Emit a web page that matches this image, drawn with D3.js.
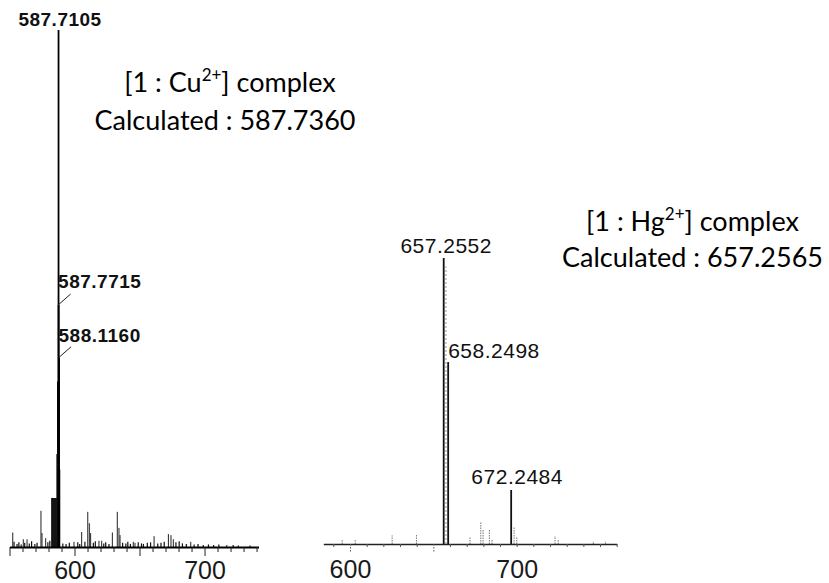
<!DOCTYPE html>
<html>
<head>
<meta charset="utf-8">
<script src="https://cdn.jsdelivr.net/npm/d3@7"></script>
<style>
  html, body { margin: 0; padding: 0; background: #fff; }
  svg { display: block; }
</style>
</head>
<body>
<svg id="chart" width="829" height="583"></svg>
<script>
// ---------- [1 : Cu2+] spectrum ----------
// labelled peaks: m/z and relative intensity (%)
const cuLabelMz  = [587.7105, 587.7715, 588.1160];
const cuLabelInt = [100, 46.8, 36.6];
// unresolved isotope cluster around the base peak
const cuClusterMz  = [582.5, 583.0, 583.5, 584.0, 584.5, 585.0, 585.5, 586.0, 586.5, 587.0, 588.6];
const cuClusterInt = [9.5, 9.5, 9.5, 9.5, 9.5, 9.5, 9.5, 9.5, 18, 32, 15];
// minor peaks
const cuMinorMz  = [552.5, 560.6, 563.5, 574.2, 575.0, 577.8, 599.6, 605.5, 610.2, 611.4, 612.4,
                    618.8, 620.9, 629.1, 632.9, 634.2, 635.0, 645.2, 646.5, 661.2, 672.2, 674.2,
                    676.0, 689.4, 717.1];
const cuMinorInt = [2.8, 1.5, 1.5, 7.0, 2.7, 1.7, 1.0, 2.9, 6.8, 4.6, 2.7,
                    1.2, 1.2, 2.8, 6.8, 3.7, 2.3, 1.0, 0.8, 2.1, 2.5, 2.3,
                    1.5, 1.0, 0.4];
// baseline noise
const cuNoiseMz  = [553.5, 555.8, 557.2, 559.0, 561.7, 565.2, 567.0, 569.5, 571.2, 579.5, 581.0,
                    591.0, 593.5, 596.0, 602.5, 604.0, 608.0, 614.5, 616.0, 622.5, 624.0, 626.5,
                    637.0, 639.5, 641.0, 643.0, 649.0, 651.5, 653.0, 656.0, 658.5, 664.0, 666.5,
                    669.0, 678.0, 680.5, 683.0, 686.0, 692.0, 695.0, 699.0, 703.0, 707.0, 711.0,
                    722.0, 726.0, 735.0];
const cuNoiseInt = [1.0, 0.6, 0.9, 0.5, 0.8, 0.7, 1.1, 0.6, 0.8, 0.9, 1.2,
                    0.7, 0.6, 0.8, 0.9, 0.6, 1.0, 0.8, 1.1, 0.7, 0.9, 0.6,
                    0.8, 0.7, 1.0, 0.6, 0.9, 0.7, 0.6, 0.8, 0.9, 0.7, 0.8,
                    1.0, 0.9, 1.1, 0.7, 0.6, 0.5, 0.6, 0.4, 0.5, 0.4, 0.5,
                    0.4, 0.3, 0.3];

// ---------- [1 : Hg2+] spectrum ----------
const hgLabelMz  = [657.2552, 658.2498, 672.2484];
const hgLabelInt = [100, 63.6, 18.9];
// unresolved shoulder between the two main lines
const hgShoulderMz  = [657.75];
const hgShoulderInt = [97];
const hgMinorMz  = [634.7, 637.6, 645.8, 651.2, 663.1, 665.5, 666.0, 667.4, 668.0,
                    672.9, 673.5, 682.0, 682.7, 690.5, 693.2];
const hgMinorInt = [1.7, 1.7, 3.0, 3.5, 2.6, 7.9, 4.9, 4.9, 1.4,
                    5.9, 2.4, 2.8, 1.7, 1.0, 1.0];

// printed axis tick labels (both panels)
const axisTickLabels = [600, 700];

// complex annotations
const complexes = [
  { ion: "Cu", charge: "2+", calc: "587.7360" },
  { ion: "Hg", charge: "2+", calc: "657.2565" }
];

const zip = (m, i) => m.map((v, k) => ({ mz: v, rel: i[k] }));

const svg = d3.select("#chart");
const LABEL_FONT = "'Liberation Sans', Arial, Helvetica, sans-serif";
const NOTE_FONT  = "Lato, 'Open Sans', sans-serif";

// ---------- scales ----------
const xCu = d3.scaleLinear().domain([550, 741.5]).range([9.5, 258.5]);
const yCu = d3.scaleLinear().domain([0, 100]).range([547, 30]);

const xHgAxis = d3.scaleLinear().domain([584, 760]).range([323.3, 616.7]);
const xHg     = d3.scaleLinear().domain([630.5, 695.7]).range([323.3, 616.7]);
const yHg     = d3.scaleLinear().domain([0, 100]).range([544, 258]);

// draw vertical stick peaks
function sticks(g, data, x, y, style) {
  g.append("g").selectAll("line").data(data).join("line")
    .attr("x1", d => x(d.mz)).attr("x2", d => x(d.mz))
    .attr("y1", y(0)).attr("y2", d => y(d.rel))
    .attr("stroke", style.color || "#000")
    .attr("stroke-width", style.width || 1)
    .attr("stroke-dasharray", style.dash || null);
}

// ---------- left panel ----------
const gCu = svg.append("g");
sticks(gCu, zip(cuNoiseMz, cuNoiseInt), xCu, yCu, { width: 1.2, color: "#111" });
sticks(gCu, zip(cuMinorMz, cuMinorInt), xCu, yCu, { width: 1, color: "#222" });
sticks(gCu, zip(cuClusterMz, cuClusterInt), xCu, yCu, { width: 1.2, color: "#111" });
sticks(gCu, zip(cuLabelMz, cuLabelInt), xCu, yCu, { width: 1.8, color: "#000" });

const cuTicks = d3.axisBottom(xCu).tickValues(d3.range(550, 741, 10))
  .tickSize(5).tickSizeOuter(0).tickFormat("");
const gCuAxis = gCu.append("g").attr("transform", `translate(0,${yCu(0)})`).call(cuTicks);
gCuAxis.select(".domain").attr("stroke-width", 2).attr("stroke", "#000");
gCuAxis.selectAll(".tick line").attr("y2", d => d % 50 === 0 ? 9 : 5).attr("stroke", "#222");

const cuLabelsAxis = d3.axisBottom(xCu).tickValues(axisTickLabels).tickSize(0).tickPadding(14);
const gCuLab = gCu.append("g").attr("transform", `translate(0,${yCu(0)})`).call(cuLabelsAxis);
gCuLab.select(".domain").remove();
gCuLab.selectAll("text").attr("font-family", LABEL_FONT).attr("font-size", 25).attr("fill", "#1a1a1a");

// peak labels (bold)
const cuLabelLayout = [
  { anchor: "middle", dx: 1.5, dy: -4, leader: false },
  { anchor: "start", dx: -0.5, dy: -17, leader: true },
  { anchor: "start", dx: -0.5, dy: -16, leader: true }
];
cuLabelMz.forEach((mz, i) => {
  const px = xCu(mz), py = yCu(cuLabelInt[i]), L = cuLabelLayout[i];
  gCu.append("text")
    .attr("x", px + L.dx).attr("y", py + L.dy)
    .attr("text-anchor", L.anchor)
    .attr("font-family", LABEL_FONT).attr("font-weight", "bold")
    .attr("font-size", 19).attr("letter-spacing", 0.5).attr("fill", "#111")
    .text(mz.toFixed(4));
  if (L.leader) {
    gCu.append("line")
      .attr("x1", px - 0.5).attr("y1", py)
      .attr("x2", px + 12).attr("y2", py - 11)
      .attr("stroke", "#222").attr("stroke-width", 1);
  }
});

// ---------- right panel ----------
const gHg = svg.append("g");
sticks(gHg, zip(hgMinorMz, hgMinorInt), xHg, yHg, { width: 1, color: "#777", dash: "1.5,1" });
sticks(gHg, zip(hgShoulderMz, hgShoulderInt), xHg, yHg, { width: 1.2, color: "#aaa", dash: "2,2" });
sticks(gHg, zip(hgLabelMz, hgLabelInt), xHg, yHg, { width: 1.8, color: "#111" });

const hgTicks = d3.axisBottom(xHgAxis).tickValues(d3.range(590, 761, 10))
  .tickSize(3).tickSizeOuter(0).tickFormat("");
const gHgAxis = gHg.append("g").attr("transform", `translate(0,${yHg(0)})`).call(hgTicks);
gHgAxis.select(".domain").attr("stroke-width", 1.5).attr("stroke", "#222");
gHgAxis.selectAll(".tick line")
  .attr("y2", d => (d === 600 || d === 650) ? 9 : 3)
  .attr("stroke", "#555")
  .attr("stroke-dasharray", d => (d === 600 || d === 650) ? "1.5,1.5" : null);

const hgLabelsAxis = d3.axisBottom(xHgAxis).tickValues(axisTickLabels).tickSize(0).tickPadding(16);
const gHgLab = gHg.append("g").attr("transform", `translate(0,${yHg(0)})`).call(hgLabelsAxis);
gHgLab.select(".domain").remove();
gHgLab.selectAll("text").attr("font-family", LABEL_FONT).attr("font-size", 25).attr("fill", "#1a1a1a");

const hgLabelLayout = [
  { anchor: "middle", dx: 2.5, dy: -5 },
  { anchor: "start", dx: 0, dy: -4 },
  { anchor: "middle", dx: 6, dy: -6 }
];
hgLabelMz.forEach((mz, i) => {
  const px = xHg(mz), py = yHg(hgLabelInt[i]), L = hgLabelLayout[i];
  gHg.append("text")
    .attr("x", px + L.dx).attr("y", py + L.dy)
    .attr("text-anchor", L.anchor)
    .attr("font-family", LABEL_FONT)
    .attr("font-size", 21).attr("letter-spacing", 0.5).attr("fill", "#111")
    .text(mz.toFixed(4));
});

// ---------- complex annotations ----------
const noteLayout = [
  { cx1: 230, cx2: 225, y1: 92, y2: 130 },
  { cx1: 692.5, cx2: 692.5, y1: 231, y2: 267 }
];
complexes.forEach((c, i) => {
  const L = noteLayout[i];
  const t1 = svg.append("text")
    .attr("x", L.cx1).attr("y", L.y1).attr("text-anchor", "middle")
    .attr("font-family", NOTE_FONT).attr("font-size", 27).attr("fill", "#000");
  t1.append("tspan").text(`[1 : ${c.ion}`);
  t1.append("tspan").attr("dy", -11).attr("font-size", 17).text(c.charge);
  t1.append("tspan").attr("dy", 11).text("] complex");

  svg.append("text")
    .attr("x", L.cx2).attr("y", L.y2).attr("text-anchor", "middle")
    .attr("font-family", NOTE_FONT).attr("font-size", 27).attr("fill", "#000")
    .text(`Calculated : ${c.calc}`);
});
</script>
</body>
</html>
